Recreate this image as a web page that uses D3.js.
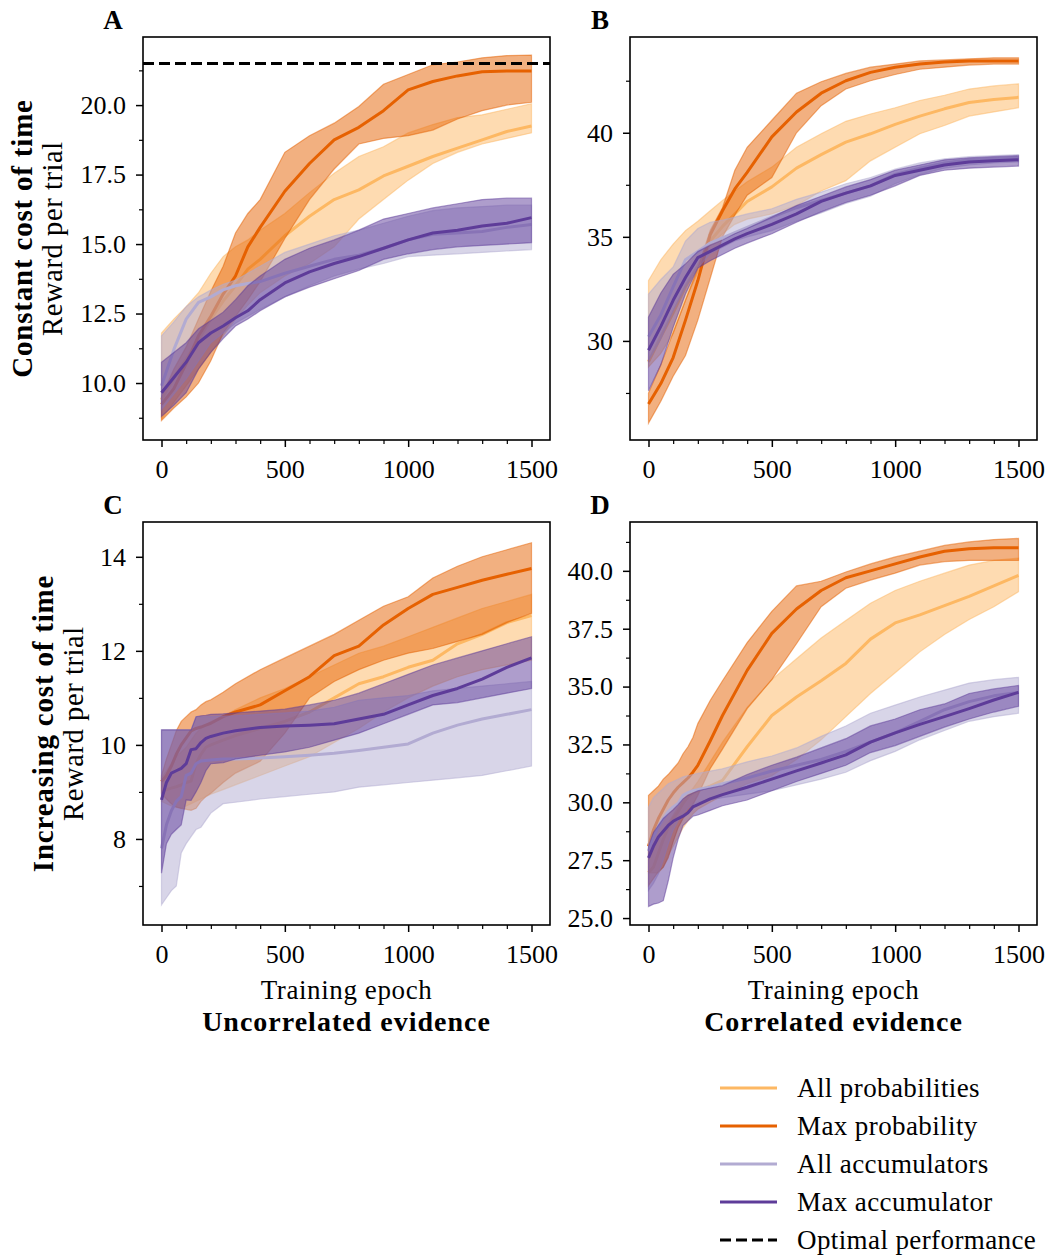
<!DOCTYPE html>
<html>
<head>
<meta charset="utf-8">
<script src="https://cdn.jsdelivr.net/npm/d3@7"></script>
<style>
  body { margin: 0; background: #fff; }
  svg { display: block; }
  text { font-family: "Liberation Serif", "DejaVu Serif", serif; fill: #000; }
</style>
</head>
<body>
<svg id="chart" width="1048" height="1255"></svg>
<script>
// ---- data ----
const seriesNames = ["All probabilities", "Max probability", "All accumulators", "Max accumulator"];
const seriesColors = ["#fdb863", "#e66101", "#b2abd2", "#5e3c99"];
const rowLabels = ["Constant cost of time", "Increasing cost of time"];
const colLabels = ["Uncorrelated evidence", "Correlated evidence"];
const xTicks = [0, 500, 1000, 1500];

const epochsTop = [0, 50, 100, 150, 200, 250, 300, 350, 400, 500, 600, 700, 800, 900, 1000, 1100, 1200, 1300, 1400, 1500];
const epochsBottom = [0, 20, 40, 60, 80, 100, 120, 140, 160, 180, 200, 250, 300, 400, 500, 600, 700, 800, 900, 1000, 1100, 1200, 1300, 1400, 1500];

// Panel A: uncorrelated evidence, constant cost
const aAllProbMean = [9.4, 10.2, 10.85, 11.55, 12.3, 12.95, 13.5, 14.1, 14.45, 15.3, 16.0, 16.6, 16.95, 17.45, 17.8, 18.15, 18.45, 18.75, 19.05, 19.25];
const aAllProbLo   = [8.7, 9.3, 9.9, 10.5, 11.1, 11.7, 12.3, 12.8, 13.25, 13.85, 14.3, 14.9, 15.9, 16.6, 17.3, 17.9, 18.3, 18.6, 18.8, 19.0];
const aAllProbHi   = [11.8, 12.3, 12.75, 13.25, 13.95, 14.55, 14.9, 15.15, 15.5, 16.1, 16.85, 17.55, 18.15, 18.5, 19.0, 19.3, 19.55, 19.65, 19.85, 20.05];
const aMaxProbMean = [9.23, 9.8, 10.7, 11.7, 12.4, 13.2, 13.85, 14.9, 15.6, 16.9, 17.9, 18.75, 19.2, 19.8, 20.55, 20.85, 21.05, 21.2, 21.23, 21.23];
const aMaxProbLo   = [8.65, 9.1, 9.5, 10.0, 10.8, 11.8, 12.4, 13.0, 13.65, 15.2, 16.6, 17.7, 18.6, 18.8, 18.9, 19.1, 19.5, 19.8, 20.0, 20.1];
const aMaxProbHi   = [9.5, 10.5, 11.3, 12.3, 13.3, 14.2, 15.4, 16.1, 16.6, 18.3, 18.9, 19.35, 19.95, 20.75, 21.1, 21.45, 21.55, 21.7, 21.78, 21.8];
const aAllAccMean  = [9.9, 11.2, 12.3, 12.9, 13.1, 13.35, 13.5, 13.58, 13.65, 13.95, 14.2, 14.45, 14.6, 14.85, 15.15, 15.35, 15.4, 15.45, 15.6, 15.7];
const aAllAccLo    = [9.05, 9.6, 10.15, 10.8, 11.45, 11.8, 12.15, 12.4, 12.65, 13.1, 13.5, 13.85, 14.1, 14.3, 14.55, 14.6, 14.65, 14.7, 14.75, 14.8];
const aAllAccHi    = [11.7, 12.2, 12.75, 13.1, 13.35, 13.55, 13.7, 13.95, 14.2, 14.7, 15.0, 15.3, 15.5, 15.75, 16.0, 16.2, 16.3, 16.35, 16.4, 16.4];
const aMaxAccMean  = [9.65, 10.2, 10.75, 11.45, 11.8, 12.05, 12.35, 12.6, 13.0, 13.6, 14.0, 14.3, 14.55, 14.85, 15.15, 15.4, 15.5, 15.65, 15.75, 15.95];
const aMaxAccLo    = [8.8, 9.2, 9.65, 10.5, 11.1, 11.6, 12.05, 12.3, 12.6, 13.1, 13.45, 13.75, 14.05, 14.45, 14.65, 14.8, 14.9, 14.95, 15.0, 15.05];
const aMaxAccHi    = [10.75, 11.1, 11.45, 11.95, 12.25, 12.55, 13.0, 13.5, 13.85, 14.45, 14.85, 15.15, 15.5, 15.9, 16.1, 16.3, 16.45, 16.6, 16.65, 16.65];
const optimalA = 21.5;

// Panel B: correlated evidence, constant cost
const bAllProbMean = [29.0, 30.2, 31.35, 32.6, 33.6, 34.8, 35.5, 36.1, 36.7, 37.4, 38.3, 38.95, 39.55, 39.95, 40.4, 40.8, 41.15, 41.45, 41.6, 41.7];
const bAllProbLo   = [28.75, 29.4, 30.35, 31.95, 33.3, 34.6, 35.15, 35.6, 35.85, 36.1, 36.5, 37.2, 37.7, 38.65, 39.3, 39.95, 40.35, 40.8, 41.0, 41.2];
const bAllProbHi   = [32.9, 33.9, 34.65, 35.3, 35.75, 36.25, 36.75, 37.2, 37.65, 38.35, 39.3, 39.95, 40.55, 40.9, 41.2, 41.55, 41.8, 42.1, 42.25, 42.35];
const bMaxProbMean = [26.97, 27.95, 29.2, 31.0, 32.9, 35.1, 36.25, 37.3, 38.1, 39.8, 41.0, 41.9, 42.5, 42.9, 43.15, 43.3, 43.4, 43.45, 43.45, 43.45];
const bMaxProbLo   = [26.05, 27.1, 28.3, 29.3, 31.0, 33.0, 35.0, 36.05, 37.0, 37.85, 40.0, 41.3, 42.1, 42.5, 42.8, 43.05, 43.15, 43.25, 43.3, 43.3];
const bMaxProbHi   = [27.5, 28.85, 30.4, 31.95, 33.5, 35.3, 36.4, 38.2, 39.3, 40.6, 41.9, 42.45, 42.85, 43.15, 43.3, 43.45, 43.5, 43.55, 43.6, 43.6];
const bAllAccMean  = [30.2, 31.25, 32.6, 33.9, 34.3, 34.7, 34.95, 35.2, 35.45, 35.95, 36.4, 36.75, 37.1, 37.45, 38.0, 38.3, 38.55, 38.7, 38.75, 38.8];
const bAllAccLo    = [29.05, 30.1, 31.45, 32.6, 33.5, 34.2, 34.5, 34.8, 35.0, 35.3, 35.75, 36.15, 36.6, 36.95, 37.55, 38.0, 38.3, 38.45, 38.55, 38.6];
const bAllAccHi    = [32.25, 32.95, 33.55, 34.8, 35.4, 35.7, 35.8, 35.95, 36.1, 36.35, 36.8, 37.15, 37.55, 37.85, 38.25, 38.55, 38.75, 38.85, 38.9, 38.95];
const bMaxAccMean  = [29.55, 30.7, 31.95, 33.05, 34.0, 34.3, 34.6, 34.9, 35.15, 35.6, 36.1, 36.7, 37.1, 37.45, 37.95, 38.2, 38.45, 38.6, 38.65, 38.7];
const bMaxAccLo    = [27.6, 28.85, 30.65, 32.25, 33.5, 33.85, 34.15, 34.45, 34.7, 35.15, 35.7, 36.2, 36.65, 37.0, 37.45, 37.95, 38.2, 38.3, 38.35, 38.4];
const bMaxAccHi    = [31.15, 32.3, 33.2, 33.7, 34.3, 34.6, 34.85, 35.15, 35.4, 35.95, 36.5, 36.95, 37.4, 37.75, 38.2, 38.45, 38.7, 38.8, 38.85, 38.9];

// Panel C: uncorrelated evidence, increasing cost
const cAllProbMean = [9.0, 9.05, 9.08, 9.11, 9.15, 9.2, 9.23, 9.6, 9.8, 9.95, 10.0, 10.1, 10.2, 10.35, 10.5, 10.7, 11.0, 11.3, 11.45, 11.65, 11.8, 12.15, 12.35, 12.6, 12.75];
const cAllProbLo   = [8.8, 8.75, 8.7, 8.67, 8.65, 8.7, 8.75, 8.8, 8.85, 8.9, 8.95, 9.05, 9.15, 9.35, 9.55, 9.75, 10.05, 10.35, 10.7, 11.0, 11.25, 11.45, 11.6, 11.7, 11.8];
const cAllProbHi   = [9.3, 9.45, 9.6, 9.75, 9.85, 9.95, 10.1, 10.25, 10.35, 10.42, 10.5, 10.6, 10.75, 11.0, 11.2, 11.45, 11.7, 11.95, 12.1, 12.3, 12.5, 12.7, 12.9, 13.05, 13.2];
const cMaxProbMean = [9.22, 9.35, 9.55, 9.8, 10.0, 10.15, 10.3, 10.35, 10.38, 10.42, 10.46, 10.6, 10.7, 10.85, 11.15, 11.45, 11.9, 12.1, 12.55, 12.9, 13.2, 13.35, 13.5, 13.63, 13.75];
const cMaxProbLo   = [8.97, 8.85, 8.75, 8.68, 8.65, 8.63, 8.61, 8.65, 8.8, 8.9, 8.97, 9.2, 9.4, 9.65, 10.25, 11.0, 11.35, 11.6, 11.8, 11.95, 12.05, 12.2, 12.35, 12.6, 12.8];
const cMaxProbHi   = [9.35, 9.7, 10.0, 10.3, 10.5, 10.6, 10.7, 10.75, 10.85, 10.92, 10.96, 11.12, 11.3, 11.6, 11.85, 12.1, 12.35, 12.65, 12.95, 13.15, 13.55, 13.8, 14.0, 14.15, 14.3];
const cAllAccMean  = [7.8, 8.3, 8.6, 8.8, 8.9, 9.35, 9.4, 9.6, 9.66, 9.67, 9.68, 9.7, 9.7, 9.72, 9.75, 9.78, 9.82, 9.88, 9.95, 10.02, 10.25, 10.42, 10.55, 10.65, 10.75];
const cAllAccLo    = [6.6, 6.75, 6.9, 7.0, 7.7, 7.9, 8.05, 8.2, 8.25, 8.4, 8.55, 8.75, 8.78, 8.85, 8.9, 8.95, 9.0, 9.1, 9.15, 9.2, 9.25, 9.3, 9.35, 9.45, 9.55];
const cAllAccHi    = [10.32, 10.32, 10.32, 10.32, 10.32, 10.32, 10.32, 10.6, 10.6, 10.6, 10.6, 10.61, 10.62, 10.65, 10.68, 10.72, 10.8, 10.95, 11.0, 11.05, 11.15, 11.2, 11.25, 11.3, 11.35];
const cMaxAccMean  = [8.83, 9.2, 9.4, 9.45, 9.5, 9.6, 9.9, 9.92, 10.05, 10.14, 10.18, 10.25, 10.3, 10.37, 10.4, 10.42, 10.45, 10.55, 10.65, 10.85, 11.05, 11.2, 11.4, 11.65, 11.85];
const cMaxAccLo    = [7.27, 7.9, 8.1, 8.2, 8.3, 8.83, 8.82, 9.0, 9.2, 9.45, 9.6, 9.62, 9.7, 9.78, 9.85, 9.95, 10.1, 10.25, 10.45, 10.65, 10.85, 10.9, 11.0, 11.1, 11.2];
const cMaxAccHi    = [10.32, 10.32, 10.32, 10.32, 10.32, 10.32, 10.32, 10.6, 10.62, 10.63, 10.65, 10.66, 10.68, 10.72, 10.76, 10.85, 10.95, 11.1, 11.3, 11.5, 11.7, 11.85, 12.0, 12.15, 12.3];

// Panel D: correlated evidence, increasing cost
const dAllProbMean = [26.97, 27.2, 27.8, 28.4, 28.9, 29.3, 29.6, 29.95, 30.25, 30.4, 30.5, 30.7, 30.95, 32.4, 33.75, 34.55, 35.25, 36.0, 37.05, 37.75, 38.1, 38.5, 38.9, 39.35, 39.8];
const dAllProbLo   = [26.95, 26.95, 26.95, 27.2, 27.7, 28.1, 28.5, 28.9, 29.2, 29.5, 29.7, 30.0, 30.3, 30.8, 31.15, 31.85, 32.7, 33.7, 34.7, 35.6, 36.5, 37.25, 37.9, 38.45, 39.1];
const dAllProbHi   = [27.9, 28.2, 28.5, 28.8, 29.1, 29.45, 29.8, 30.1, 30.35, 30.6, 30.9, 31.75, 32.6, 34.1, 35.3, 36.2, 37.1, 37.85, 38.6, 39.15, 39.55, 39.9, 40.25, 40.45, 40.55];
const dMaxProbMean = [28.1, 28.8, 29.3, 29.7, 30.1, 30.4, 30.65, 30.85, 31.05, 31.3, 31.6, 32.65, 33.75, 35.7, 37.3, 38.35, 39.15, 39.7, 40.0, 40.3, 40.6, 40.85, 40.95, 41.0, 41.0];
const dMaxProbLo   = [26.4, 26.7, 27.0, 27.2, 27.6, 28.3, 28.9, 29.3, 29.6, 29.9, 30.3, 31.45, 32.3, 34.05, 35.3, 36.85, 38.45, 39.25, 39.6, 39.9, 40.25, 40.4, 40.45, 40.45, 40.45];
const dMaxProbHi   = [30.3, 30.5, 30.7, 31.0, 31.2, 31.45, 31.7, 32.1, 32.4, 32.8, 33.4, 34.4, 35.25, 36.9, 38.25, 39.35, 39.55, 39.95, 40.3, 40.6, 40.85, 41.1, 41.25, 41.35, 41.4];
const dAllAccMean  = [27.9, 28.5, 28.95, 29.3, 29.6, 29.8, 29.95, 30.3, 30.42, 30.5, 30.55, 30.65, 30.8, 31.05, 31.35, 31.6, 31.85, 32.2, 32.6, 33.0, 33.5, 34.0, 34.35, 34.6, 34.75];
const dAllAccLo    = [26.2, 26.5, 26.9, 27.5, 28.2, 28.8, 29.2, 29.5, 29.75, 29.9, 30.0, 30.1, 30.2, 30.35, 30.5, 30.75, 31.0, 31.3, 31.8, 32.2, 32.7, 33.1, 33.5, 33.7, 33.85];
const dAllAccHi    = [29.8, 30.2, 30.4, 30.6, 30.8, 30.9, 31.0, 31.1, 31.15, 31.2, 31.25, 31.35, 31.45, 31.75, 32.0, 32.35, 32.85, 33.3, 33.85, 34.2, 34.55, 34.85, 35.15, 35.3, 35.4];
const dMaxAccMean  = [27.6, 28.1, 28.5, 28.75, 29.0, 29.18, 29.3, 29.4, 29.55, 29.8, 29.9, 30.15, 30.33, 30.65, 31.0, 31.36, 31.7, 32.05, 32.6, 33.0, 33.37, 33.7, 34.05, 34.42, 34.75];
const dMaxAccLo    = [25.5, 25.6, 25.65, 25.75, 26.6, 27.6, 28.4, 29.0, 29.2, 29.4, 29.45, 29.65, 29.85, 30.1, 30.5, 30.9, 31.25, 31.6, 32.15, 32.45, 32.85, 33.25, 33.6, 33.9, 34.15];
const dMaxAccHi    = [28.1, 28.7, 29.0, 29.3, 29.5, 29.68, 29.9, 30.15, 30.3, 30.4, 30.5, 30.62, 30.72, 31.2, 31.6, 31.95, 32.35, 32.75, 33.3, 33.6, 34.0, 34.25, 34.7, 34.9, 35.05];

// ---- panels ----
const panels = [
  { letter: "A", x: 143, y: 37, epochs: epochsTop, yDomain: [7.95, 22.45], yTicks: [10, 12.5, 15, 17.5, 20], yMinor: 1.25, fmt: ".1f",
    series: [[aAllProbMean, aAllProbLo, aAllProbHi], [aMaxProbMean, aMaxProbLo, aMaxProbHi], [aAllAccMean, aAllAccLo, aAllAccHi], [aMaxAccMean, aMaxAccLo, aMaxAccHi]],
    optimal: optimalA, row: 0, col: 0 },
  { letter: "B", x: 630, y: 37, epochs: epochsTop, yDomain: [25.24, 44.6], yTicks: [30, 35, 40], yMinor: 2.5, fmt: "d",
    series: [[bAllProbMean, bAllProbLo, bAllProbHi], [bMaxProbMean, bMaxProbLo, bMaxProbHi], [bAllAccMean, bAllAccLo, bAllAccHi], [bMaxAccMean, bMaxAccLo, bMaxAccHi]],
    row: 0, col: 1 },
  { letter: "C", x: 143, y: 522, epochs: epochsBottom, yDomain: [6.17, 14.74], yTicks: [8, 10, 12, 14], yMinor: 1, fmt: "d",
    series: [[cAllProbMean, cAllProbLo, cAllProbHi], [cMaxProbMean, cMaxProbLo, cMaxProbHi], [cAllAccMean, cAllAccLo, cAllAccHi], [cMaxAccMean, cMaxAccLo, cMaxAccHi]],
    row: 1, col: 0 },
  { letter: "D", x: 630, y: 522, epochs: epochsBottom, yDomain: [24.7, 42.11], yTicks: [25, 27.5, 30, 32.5, 35, 37.5, 40], yMinor: 1.25, fmt: ".1f",
    series: [[dAllProbMean, dAllProbLo, dAllProbHi], [dMaxProbMean, dMaxProbLo, dMaxProbHi], [dAllAccMean, dAllAccLo, dAllAccHi], [dMaxAccMean, dMaxAccLo, dMaxAccHi]],
    row: 1, col: 1 }
];

const W = 407, H = 403;
const svg = d3.select("#chart");

panels.forEach((p, pi) => {
  const g = svg.append("g").attr("transform", "translate(" + p.x + "," + p.y + ")");
  const x = d3.scaleLinear().domain([-75, 1575]).range([0, W]);
  const y = d3.scaleLinear().domain(p.yDomain).range([H, 0]);

  g.append("clipPath").attr("id", "clip" + pi)
    .append("rect").attr("width", W).attr("height", H);
  const plot = g.append("g").attr("clip-path", "url(#clip" + pi + ")");

  const area = d3.area()
    .x((d, i) => x(p.epochs[i]))
    .y0(d => y(d[0]))
    .y1(d => y(d[1]));
  const line = d3.line()
    .x((d, i) => x(p.epochs[i]))
    .y(d => y(d));

  p.series.forEach((s, si) => {
    const band = s[1].map((lo, i) => [lo, s[2][i]]);
    plot.append("path")
      .attr("d", area(band))
      .attr("fill", seriesColors[si])
      .attr("fill-opacity", 0.5)
      .attr("stroke", seriesColors[si])
      .attr("stroke-opacity", 0.5)
      .attr("stroke-width", 1.2);
    plot.append("path")
      .attr("d", line(s[0]))
      .attr("fill", "none")
      .attr("stroke", seriesColors[si])
      .attr("stroke-width", 3)
      .attr("stroke-linejoin", "round");
  });

  if (p.optimal !== undefined) {
    plot.append("line")
      .attr("x1", 0).attr("x2", W)
      .attr("y1", y(p.optimal)).attr("y2", y(p.optimal))
      .attr("stroke", "#000")
      .attr("stroke-width", 3)
      .attr("stroke-dasharray", "11,5");
  }

  // minor ticks
  const yMinorVals = d3.range(Math.ceil(p.yDomain[0] / p.yMinor) * p.yMinor, p.yDomain[1], p.yMinor)
    .filter(v => !p.yTicks.some(t => Math.abs(t - v) < 1e-6));
  const xMinorVals = d3.range(0, 1501, 100).filter(v => xTicks.indexOf(v) < 0);

  g.append("g")
    .call(d3.axisLeft(y).tickValues(yMinorVals).tickSize(4).tickFormat(""))
    .call(a => a.select(".domain").remove())
    .selectAll("line").attr("stroke-width", 1.2);
  g.append("g").attr("transform", "translate(0," + H + ")")
    .call(d3.axisBottom(x).tickValues(xMinorVals).tickSize(4).tickFormat(""))
    .call(a => a.select(".domain").remove())
    .selectAll("line").attr("stroke-width", 1.2);

  // major ticks
  const yAxis = g.append("g")
    .call(d3.axisLeft(y).tickValues(p.yTicks).tickSize(7).tickPadding(10).tickFormat(d3.format(p.fmt)));
  yAxis.select(".domain").remove();
  yAxis.selectAll("line").attr("stroke-width", 1.5);
  yAxis.selectAll("text").attr("font-size", 26).attr("font-family", "Liberation Serif");

  const xAxis = g.append("g").attr("transform", "translate(0," + H + ")")
    .call(d3.axisBottom(x).tickValues(xTicks).tickSize(7).tickPadding(13).tickFormat(d3.format("d")));
  xAxis.select(".domain").remove();
  xAxis.selectAll("line").attr("stroke-width", 1.5);
  xAxis.selectAll("text").attr("font-size", 26).attr("font-family", "Liberation Serif");

  // frame
  g.append("rect").attr("width", W).attr("height", H)
    .attr("fill", "none").attr("stroke", "#000").attr("stroke-width", 1.6);

  // panel letter
  svg.append("text")
    .attr("x", p.x - 30).attr("y", p.y - 17)
    .attr("text-anchor", "middle").attr("dominant-baseline", "central")
    .attr("font-size", 27).attr("font-weight", "bold")
    .text(p.letter);

  if (p.row === 1) {
    svg.append("text")
      .attr("x", p.x + W / 2).attr("y", 990)
      .attr("text-anchor", "middle").attr("dominant-baseline", "central")
      .attr("font-size", 27).attr("letter-spacing", 0.6)
      .text("Training epoch");
    svg.append("text")
      .attr("x", p.x + W / 2).attr("y", 1021)
      .attr("text-anchor", "middle").attr("dominant-baseline", "central")
      .attr("font-size", 28).attr("font-weight", "bold").attr("letter-spacing", 1)
      .text(colLabels[p.col]);
  }
});

// row labels
const rowLabelX = [[22, 52], [43, 73]];
[0, 1].forEach(r => {
  const cy = panels[r * 2].y + H / 2;
  svg.append("text")
    .attr("transform", "translate(" + rowLabelX[r][0] + "," + cy + ") rotate(-90)")
    .attr("text-anchor", "middle").attr("dominant-baseline", "central")
    .attr("font-size", 29).attr("font-weight", "bold").attr("letter-spacing", 0.8)
    .text(rowLabels[r]);
  svg.append("text")
    .attr("transform", "translate(" + rowLabelX[r][1] + "," + cy + ") rotate(-90)")
    .attr("text-anchor", "middle").attr("dominant-baseline", "central")
    .attr("font-size", 28.5).attr("letter-spacing", 0.6)
    .text("Reward per trial");
});

// legend
const legendItems = seriesNames.map((n, i) => ({ name: n, color: seriesColors[i], dash: null }))
  .concat([{ name: "Optimal performance", color: "#000", dash: "11,5" }]);
const legend = svg.append("g").attr("transform", "translate(720,1088)");
legendItems.forEach((d, i) => {
  const row = legend.append("g").attr("transform", "translate(0," + i * 38 + ")");
  row.append("line")
    .attr("x1", 0).attr("x2", 57).attr("y1", 0).attr("y2", 0)
    .attr("stroke", d.color).attr("stroke-width", 3.2)
    .attr("stroke-dasharray", d.dash);
  row.append("text")
    .attr("x", 77).attr("y", 0)
    .attr("dominant-baseline", "central")
    .attr("font-size", 27).attr("letter-spacing", 0.4)
    .text(d.name);
});
</script>
</body>
</html>
